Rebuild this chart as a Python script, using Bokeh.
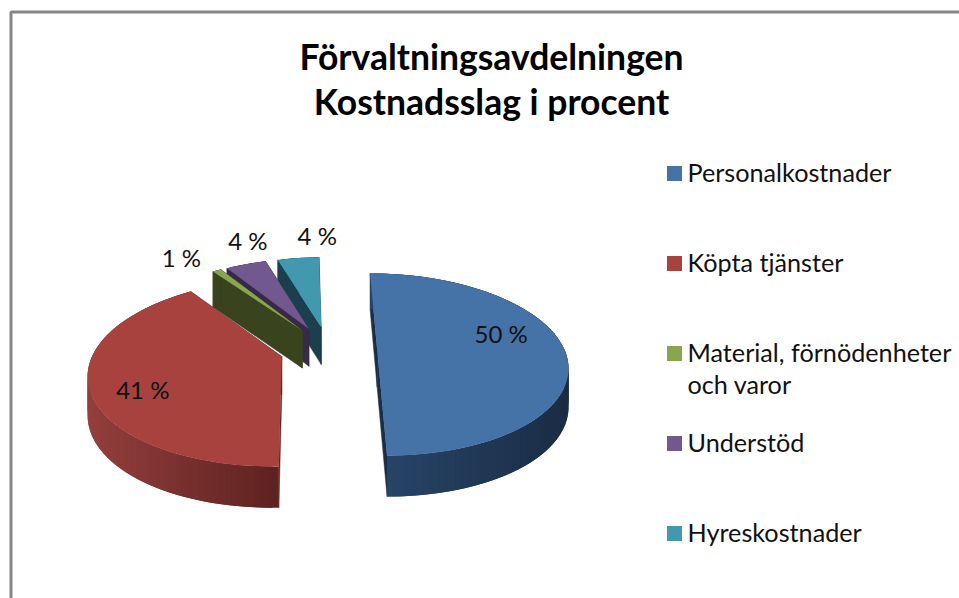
import math
from bokeh.plotting import figure
from bokeh.models import Range1d
from bokeh.core.properties import value
from bokeh.embed import file_html
from bokeh.resources import INLINE

# ---- data ----
categories = ["Personalkostnader", "Köpta tjänster", "Material, förnödenheter och varor", "Understöd", "Hyreskostnader"]
percent = [50.0, 40.6, 0.9, 4.2, 4.3]
title_lines = ["Förvaltningsavdelningen", "Kostnadsslag i procent"]
legend_lines = [["Personalkostnader"], ["Köpta tjänster"], ["Material, förnödenheter", "och varor"], ["Understöd"], ["Hyreskostnader"]]

# ---- styles ----
top_colors = ["#4572A7", "#A7423F", "#89A54E", "#71588F", "#4198AF"]
wall_colors = ["#1b2e46", "#5f2322", "#39431e", "#362a48", "#1b3f4c"]
rim_left = ["#28466a", "#933f3c", "#39431e", "#362a48", "#1b3f4c"]
rim_right = ["#1a2c43", "#5c2120", "#39431e", "#362a48", "#1b3f4c"]
draw_order = [4, 3, 2, 1, 0]
label_offsets = [(124, -16), (-139, 33), (-121, -73), (-61, -88), (-4, -92)]
# small per-slice turn, as the reference's perspective has it (degrees)
slice_turn = [0.0, -1.7, -1.7, -1.7, -1.2]

# ---- projection of the 3-D pie (reference pixel space) ----
CX, CY, A, B, K, EXPLODE, DEPTH = 328.0, 348.5, 187.0, 88.5, 0.17, 0.26, 38.0
START = 0.0
FONT = "Lato"

def project(X, Y, low=False):
    w = 1 + K * Y
    sx = CX + A * X / w
    sy = CY - B * Y / w
    if low:
        sy += DEPTH / w ** 0.4
    return sx, sy

def mix(c1, c2, t):
    a = [int(c1[i:i + 2], 16) for i in (1, 3, 5)]
    b = [int(c2[i:i + 2], 16) for i in (1, 3, 5)]
    return "#%02x%02x%02x" % tuple(round(p + (q - p) * t) for p, q in zip(a, b))

W, H = 959, 598
p = figure(width=W, height=H, output_backend="svg", toolbar_location=None,
           x_range=Range1d(0, W), y_range=Range1d(H, 0), min_border=0,
           outline_line_color=None, background_fill_color="white", border_fill_color="white")
p.axis.visible = False
p.grid.visible = False

# frame
p.line([10.5, 10.5, W], [H, 11.5, 11.5], line_color="#868686", line_width=3)

# slices
total = sum(percent)
angles = []
cur = START
for k, v in enumerate(percent):
    angles.append((cur + slice_turn[k], cur + slice_turn[k] + 360.0 * v / total))
    cur += 360.0 * v / total

apexes = []
for i in range(len(percent)):
    a0, a1 = angles[i]
    mid = math.radians((a0 + a1) / 2)
    apexes.append(project(EXPLODE * math.sin(mid), EXPLODE * math.cos(mid)))

for i in draw_order:
    a0, a1 = angles[i]
    mid = math.radians((a0 + a1) / 2)
    ox, oy = EXPLODE * math.sin(mid), EXPLODE * math.cos(mid)
    n = max(4, int(abs(a1 - a0) / 1.5))
    th = [math.radians(a0 + (a1 - a0) * j / n) for j in range(n + 1)]
    rim = [(ox + math.sin(t), oy + math.cos(t)) for t in th]
    # radial walls
    for pt in (rim[0], rim[-1]):
        t1, t2 = project(*pt), project(ox, oy)
        b2, b1 = project(ox, oy, True), project(*pt, True)
        p.patch([t1[0], t2[0], b2[0], b1[0]], [t1[1], t2[1], b2[1], b1[1]],
                fill_color=wall_colors[i], line_color=wall_colors[i], line_width=0.5)
    # outer wall with shading: overlapping bands, so that no seam shows
    xs, ys, cols = [], [], []
    xl = min(project(*r)[0] for r in rim)
    xr = max(project(*r)[0] for r in rim)
    for j in range(n):
        u, v2 = rim[j], rim[min(j + 2, n)]
        t1, t2, b2, b1 = project(*u), project(*v2), project(*v2, True), project(*u, True)
        xs.append([t1[0], t2[0], b2[0], b1[0]])
        ys.append([t1[1], t2[1], b2[1], b1[1]])
        cols.append(mix(rim_left[i], rim_right[i], ((t1[0] + t2[0]) / 2 - xl) / max(xr - xl, 1)))
    p.patches(xs, ys, fill_color=cols, line_color=None)
    # top face
    pts = [project(ox, oy)] + [project(*r) for r in rim]
    p.patch([q[0] for q in pts], [q[1] for q in pts], fill_color=top_colors[i], line_color=None)

# data labels
p.text([apexes[i][0] + label_offsets[i][0] for i in range(5)],
       [apexes[i][1] + label_offsets[i][1] for i in range(5)],
       text=[f"{v:.0f} %" for v in percent], text_font=value(FONT), text_font_size="24px",
       text_color="#111111", text_align="center", text_baseline="middle")

# title
p.text([491, 491], [55.5, 100.5], text=title_lines, text_font=value(FONT), text_font_size="35.5px",
       text_font_style="bold", text_color="#000000", text_align="center", text_baseline="middle")

# legend
LEG_X, LEG_Y, LEG_STEP, LEG_LINE = 674, 173, 90, 32
p.scatter([LEG_X] * 5, [LEG_Y + LEG_STEP * i for i in range(5)], marker="square", size=15,
          fill_color=top_colors, line_color=None)
tx, ty, tt = [], [], []
for i, lines in enumerate(legend_lines):
    for j, s in enumerate(lines):
        tx.append(687); ty.append(LEG_Y - 2 + LEG_STEP * i + LEG_LINE * j); tt.append(s)
p.text(tx, ty, text=tt, text_font=value(FONT), text_font_size="25.2px", text_color="#111111",
       text_align="left", text_baseline="middle")

open("out.html", "w").write(file_html(p, INLINE))
